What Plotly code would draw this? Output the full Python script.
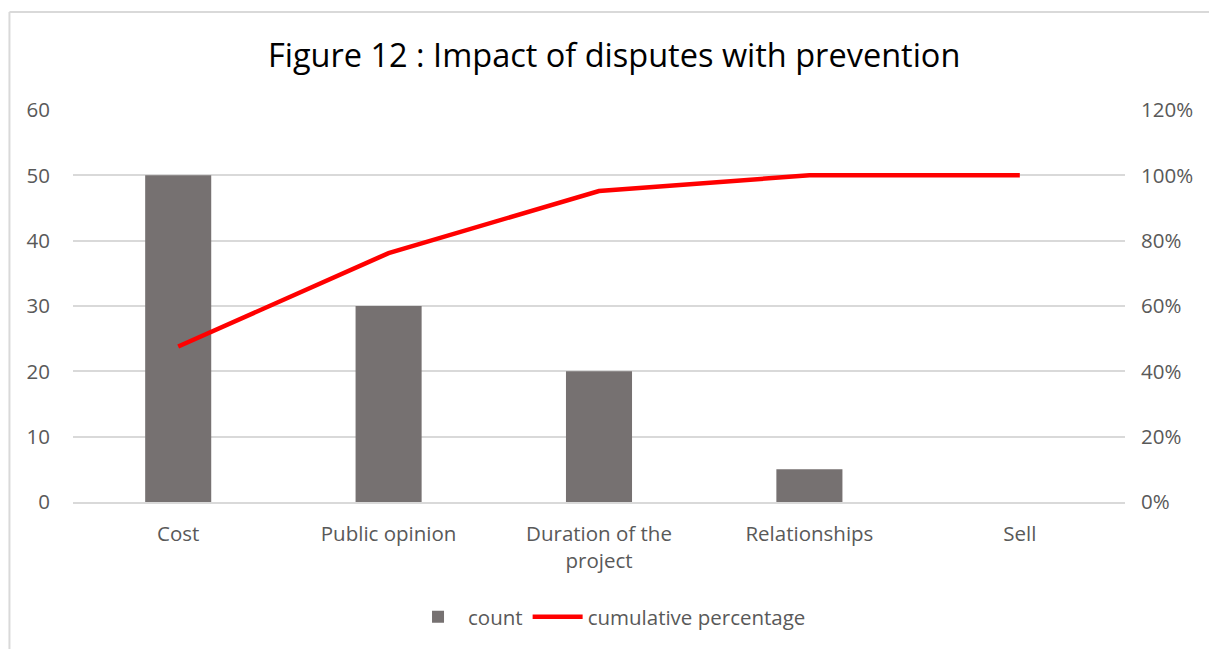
import plotly.graph_objects as go

# Pareto data: impact categories, counts and cumulative share
categories = ["Cost", "Public opinion", "Duration of the<br>project", "Relationships", "Sell"]
counts = [50, 30, 20, 5, 0]
cumulative_pct = [0.476, 0.762, 0.952, 1.0, 1.0]

y_ticks = [0, 10, 20, 30, 40, 50, 60]
pct_ticks = [0, 0.2, 0.4, 0.6, 0.8, 1.0, 1.2]

FONT = "Open Sans"
GREY_TEXT = "#595959"
GRID = "#d9d9d9"
TICK_SIZE = 20.5

fig = go.Figure()
fig.add_trace(go.Bar(
    x=categories, y=counts, name="count",
    marker=dict(color="#767171", line=dict(width=0)),
    width=0.314,
))
fig.add_trace(go.Scatter(
    x=categories, y=cumulative_pct, name="cumulative percentage",
    mode="lines", line=dict(color="#ff0000", width=4.5),
    yaxis="y2",
))

fig.update_layout(
    width=1209, height=649,
    margin=dict(l=73, r=84, t=110, b=147, autoexpand=False),
    paper_bgcolor="white", plot_bgcolor="white",
    font=dict(family=FONT, size=TICK_SIZE, color=GREY_TEXT),
    title=dict(
        text="Figure 12 : Impact of disputes with prevention",
        font=dict(family=FONT, size=32.5, color="#000000"),
        x=0.508, xanchor="center", y=0.915, yanchor="middle",
    ),
    xaxis=dict(
        showgrid=False, showline=True, linecolor=GRID, linewidth=1.5,
        ticks="", ticklabelstandoff=13,
        tickfont=dict(size=TICK_SIZE, color=GREY_TEXT),
    ),
    yaxis=dict(
        range=[0, 60], tickvals=y_ticks, showgrid=True, gridcolor=GRID,
        gridwidth=1.5, zeroline=False, showline=False, ticks="",
        ticklabelstandoff=22, tickfont=dict(size=TICK_SIZE, color=GREY_TEXT),
    ),
    yaxis2=dict(
        range=[0, 1.2], tickvals=pct_ticks, tickformat=".0%",
        overlaying="y", side="right", showgrid=False, zeroline=False,
        showline=False, ticks="", ticklabelstandoff=15,
        tickfont=dict(size=TICK_SIZE, color=GREY_TEXT),
    ),
    legend=dict(
        orientation="h", x=0.51, xanchor="center", y=-0.293, yanchor="middle",
        font=dict(size=TICK_SIZE, color=GREY_TEXT), itemwidth=50,
        traceorder="normal",
    ),
    shapes=[
        dict(type="line", xref="paper", yref="paper", x0=-0.0604, x1=1.2,
             y0=1.25, y1=1.25, line=dict(color=GRID, width=2)),
        dict(type="line", xref="paper", yref="paper", x0=-0.0604, x1=-0.0604,
             y0=-0.5, y1=1.25, line=dict(color=GRID, width=2)),
    ],
)

fig.write_html("out.html")
